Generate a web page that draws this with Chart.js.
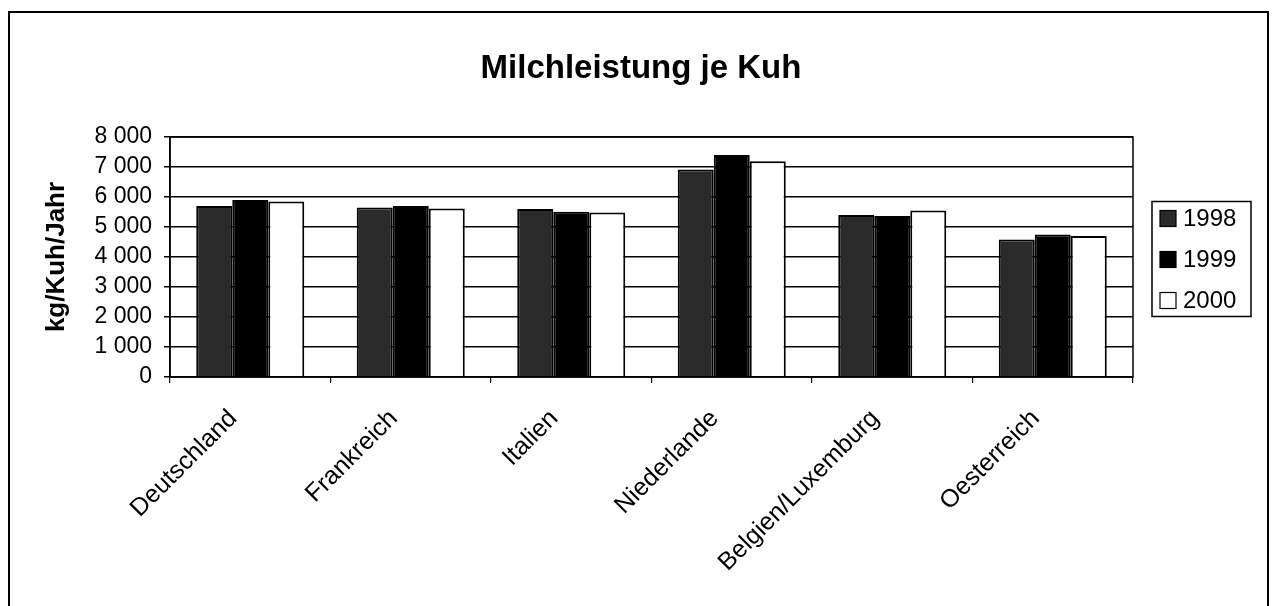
<!DOCTYPE html>
<html>
<head>
<meta charset="utf-8">
<title>Milchleistung je Kuh</title>
<script src="https://cdn.jsdelivr.net/npm/chart.js@4"></script>
<style>
  html, body { margin: 0; padding: 0; background: #fff; }
  #wrap { width: 1273px; height: 606px; position: relative; }
</style>
</head>
<body>
<div id="wrap"><canvas id="chart"></canvas></div>
<script>
// Data (kg milk per cow per year)
const countries = ['Deutschland', 'Frankreich', 'Italien', 'Niederlande', 'Belgien/Luxemburg', 'Oesterreich'];
const years = ['1998', '1999', '2000'];
const values1998 = [5700, 5650, 5600, 6920, 5400, 4580];
const values1999 = [5900, 5700, 5510, 7400, 5370, 4750];
const values2000 = [5850, 5620, 5480, 7190, 5550, 4700];
const yTicks = [0, 1000, 2000, 3000, 4000, 5000, 6000, 7000, 8000];
const chartTitle = 'Milchleistung je Kuh';

const FONT = '"Liberation Sans", Arial, sans-serif';

// format 8000 -> "8 000"
const fmt = v => String(v).replace(/\B(?=(\d{3})+(?!\d))/g, ' ');

// Outer frame, title and plot border
const framePlugin = {
    id: 'frame',
    beforeDraw(chart) {
        const ctx = chart.ctx;
        ctx.save();
        ctx.fillStyle = '#fff';
        ctx.fillRect(0, 0, chart.width, chart.height);
        ctx.strokeStyle = '#000';
        ctx.lineWidth = 2;
        ctx.strokeRect(9, 12, 1259, 700);
        // title, centred over the whole picture like the original
        ctx.fillStyle = '#000';
        ctx.font = 'bold 33px ' + FONT;
        ctx.textAlign = 'center';
        ctx.textBaseline = 'middle';
        ctx.fillText(chartTitle, 641, 69);
        ctx.restore();
    },
    afterDatasetsDraw(chart) {
        const a = chart.chartArea;
        const ctx = chart.ctx;
        ctx.save();
        ctx.strokeStyle = '#000';
        ctx.lineWidth = 1.5;
        ctx.strokeRect(a.left, a.top, a.right - a.left, a.bottom - a.top);
        ctx.restore();
    }
};

// Boxed legend on the right
const boxLegend = {
    id: 'boxLegend',
    afterDraw(chart) {
        const ctx = chart.ctx;
        const a = chart.chartArea;
        const w = 99, h = 115;
        const x = 1152;
        const y = (a.top + a.bottom) / 2 - h / 2 + 2;
        ctx.save();
        ctx.strokeStyle = '#000';
        ctx.lineWidth = 1.5;
        ctx.strokeRect(x, y, w, h);
        ctx.font = '24px ' + FONT;
        ctx.textBaseline = 'middle';
        chart.data.datasets.forEach((ds, i) => {
            const cy = y + 17 + i * 41;
            ctx.fillStyle = ds.backgroundColor;
            ctx.fillRect(x + 8, cy - 8, 16, 16);
            ctx.strokeStyle = '#000';
            ctx.lineWidth = 1.2;
            ctx.strokeRect(x + 8, cy - 8, 16, 16);
            ctx.fillStyle = '#000';
            ctx.fillText(ds.label, x + 31, cy + 1);
        });
        ctx.restore();
    }
};

const ctx = document.getElementById('chart').getContext('2d');
new Chart(ctx, {
    type: 'bar',
    data: {
        labels: countries,
        datasets: [
            { label: years[0], data: values1998, backgroundColor: '#2a2a2a' },
            { label: years[1], data: values1999, backgroundColor: '#000000' },
            { label: years[2], data: values2000, backgroundColor: '#ffffff' }
        ].map(d => Object.assign(d, {
            borderColor: '#000',
            borderWidth: 2,
            categoryPercentage: 0.673,
            barPercentage: 1.0
        }))
    },
    options: {
        responsive: true,
        maintainAspectRatio: false,
        animation: false,
        layout: {
            padding: { left: 0, right: 140, top: 137, bottom: 0 }
        },
        scales: {
            x: {
                grid: {
                    offset: true,
                    drawOnChartArea: false,
                    color: '#000',
                    tickLength: 6,
                    lineWidth: 1.2
                },
                border: { color: '#000', width: 1.5 },
                ticks: {
                    color: '#000',
                    font: { family: FONT, size: 25 },
                    minRotation: 45,
                    maxRotation: 45,
                    autoSkip: false,
                    labelOffset: -17,
                    padding: 21
                },
                afterFit(scale) { scale.height = 229; }
            },
            y: {
                min: 0,
                max: 8000,
                afterBuildTicks(scale) {
                    scale.ticks = yTicks.map(v => ({ value: v }));
                },
                grid: {
                    color: '#000',
                    lineWidth: 1.5,
                    tickLength: 6
                },
                border: { color: '#000', width: 1.5 },
                ticks: {
                    color: '#000',
                    font: { family: FONT, size: 23 },
                    padding: 12,
                    autoSkip: false,
                    callback: v => fmt(v)
                },
                title: {
                    display: true,
                    text: 'kg/Kuh/Jahr',
                    color: '#000',
                    font: { family: FONT, size: 26, weight: 'bold' },
                    padding: { top: 41, bottom: 0 }
                },
                afterFit(scale) { scale.width = 170; }
            }
        },
        plugins: {
            legend: { display: false },
            tooltip: { enabled: false },
            title: { display: false }
        }
    },
    plugins: [framePlugin, boxLegend]
});
</script>
</body>
</html>
